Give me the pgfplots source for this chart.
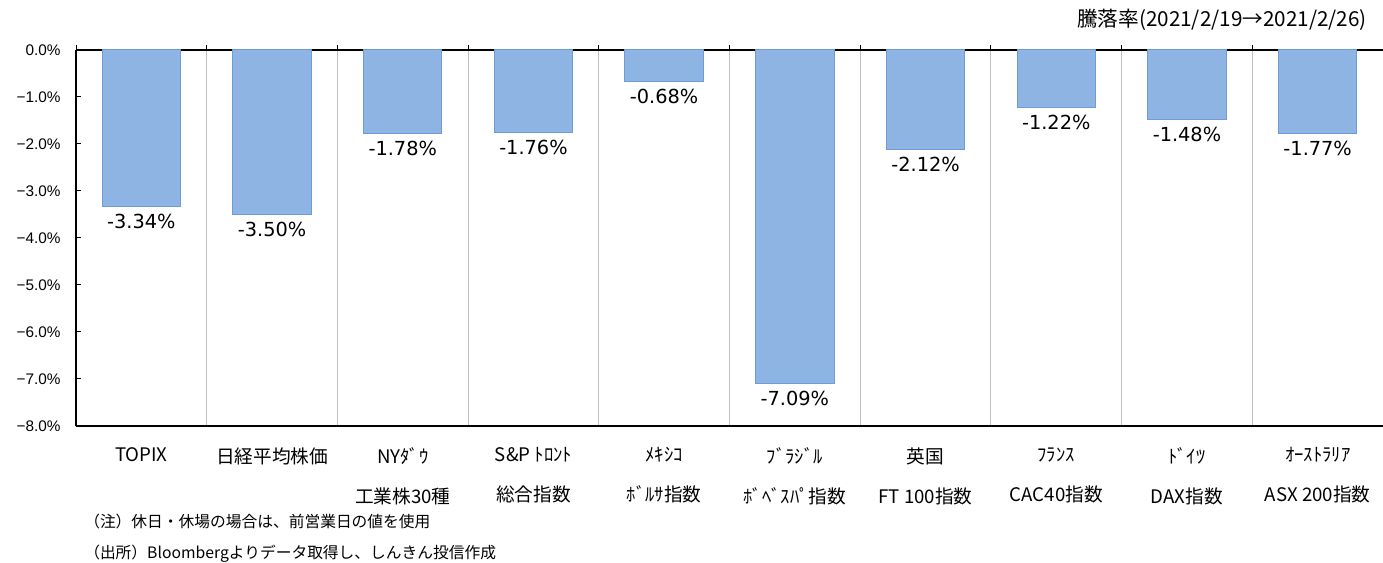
\documentclass[border=0pt]{standalone}
\usepackage{pgfplots}
\pgfplotsset{compat=1.18}
\usepackage{fontspec}
\setmainfont{Liberation Sans}
\newfontfamily\cjk{Noto Sans CJK JP}
\newfontfamily\dejavu{DejaVu Sans}
\definecolor{barfill}{HTML}{8EB4E3}
\definecolor{barline}{HTML}{6F9CD5}
\definecolor{gridc}{HTML}{C0C0C0}
\pgfplotstableread{
x y
0 -3.34
1 -3.50
2 -1.78
3 -1.76
4 -0.68
5 -7.09
6 -2.12
7 -1.22
8 -1.48
9 -1.77
}\datatable
\begin{document}
\begin{tikzpicture}
\path[use as bounding box] (0,0) rectangle (1037.25pt,422.25pt);
\begin{axis}[
  at={(57pt,102.75pt)}, anchor=south west,
  scale only axis, width=980.25pt, height=282pt,
  xmin=-0.5, xmax=9.5, ymin=-8, ymax=0,
  axis x line=box, axis y line=left,
  x axis line style={-, line width=1.5pt, black},
  y axis line style={-, line width=1.5pt, black},
  xtick pos=right, xticklabel pos=left,
  ytick pos=left,
  xtick align=outside, ytick align=inside,
  major tick length=3.5pt,
  tick style={black, line width=0.75pt},
  xtick={-0.5,0.5,...,9.5},
  xticklabels={,,,,,,,,,,},
  xmajorgrids, major grid style={gridc, line width=0.75pt},
  extra x ticks={0,1,...,9},
  extra x tick labels={{\vphantom{日}TOPIX},{日経平均株価},{NYﾀﾞｳ\\工業株30種},{S\&P ﾄﾛﾝﾄ\\総合指数},{ﾒｷｼｺ\\ﾎﾞﾙｻ指数},{ﾌﾞﾗｼﾞﾙ\\ﾎﾞﾍﾞｽﾊﾟ指数},{英国\\FT 100指数},{ﾌﾗﾝｽ\\CAC40指数},{ﾄﾞｲﾂ\\DAX指数},{ｵｰｽﾄﾗﾘｱ\\ASX 200指数}},
  extra x tick style={grid=none, major tick length=0pt, tick style={draw=none},
    tick label style={font=\cjk\fontsize{14}{30}\selectfont, align=center, anchor=north, yshift=-12.5pt}},
  ytick={-8,-7,...,0},
  yticklabels={−8.0\%,−7.0\%,−6.0\%,−5.0\%,−4.0\%,−3.0\%,−2.0\%,−1.0\%,0.0\%},
  yticklabel style={font=\fontsize{11.5}{13}\selectfont, anchor=east, xshift=-8pt},
  clip=false,
]
\addplot[ybar, bar width=0.6, fill=barfill, draw=barline, line width=0.75pt,
  point meta=explicit symbolic,
  nodes near coords={\pgfplotspointmeta\%},
  every node near coord/.append style={font=\dejavu\fontsize{14.5}{16}\selectfont, anchor=north, yshift=-2pt, text=black}]
  table[x=x, y=y, meta=y]{\datatable};
\end{axis}
\node[anchor=east, font=\cjk\fontsize{15.5}{17}\selectfont, inner sep=0pt] at (1025.25pt,407.25pt) {騰落率(2021/2/19→2021/2/26)};
\node[anchor=west, font=\cjk\fontsize{11.8}{13}\selectfont, inner sep=0pt] at (63pt,30.75pt) {（注）休日・休場の場合は、前営業日の値を使用};
\node[anchor=west, font=\cjk\fontsize{11.8}{13}\selectfont, inner sep=0pt] at (63pt,6.75pt) {（出所）Bloombergよりデータ取得し、しんきん投信作成};
\end{tikzpicture}
\end{document}
